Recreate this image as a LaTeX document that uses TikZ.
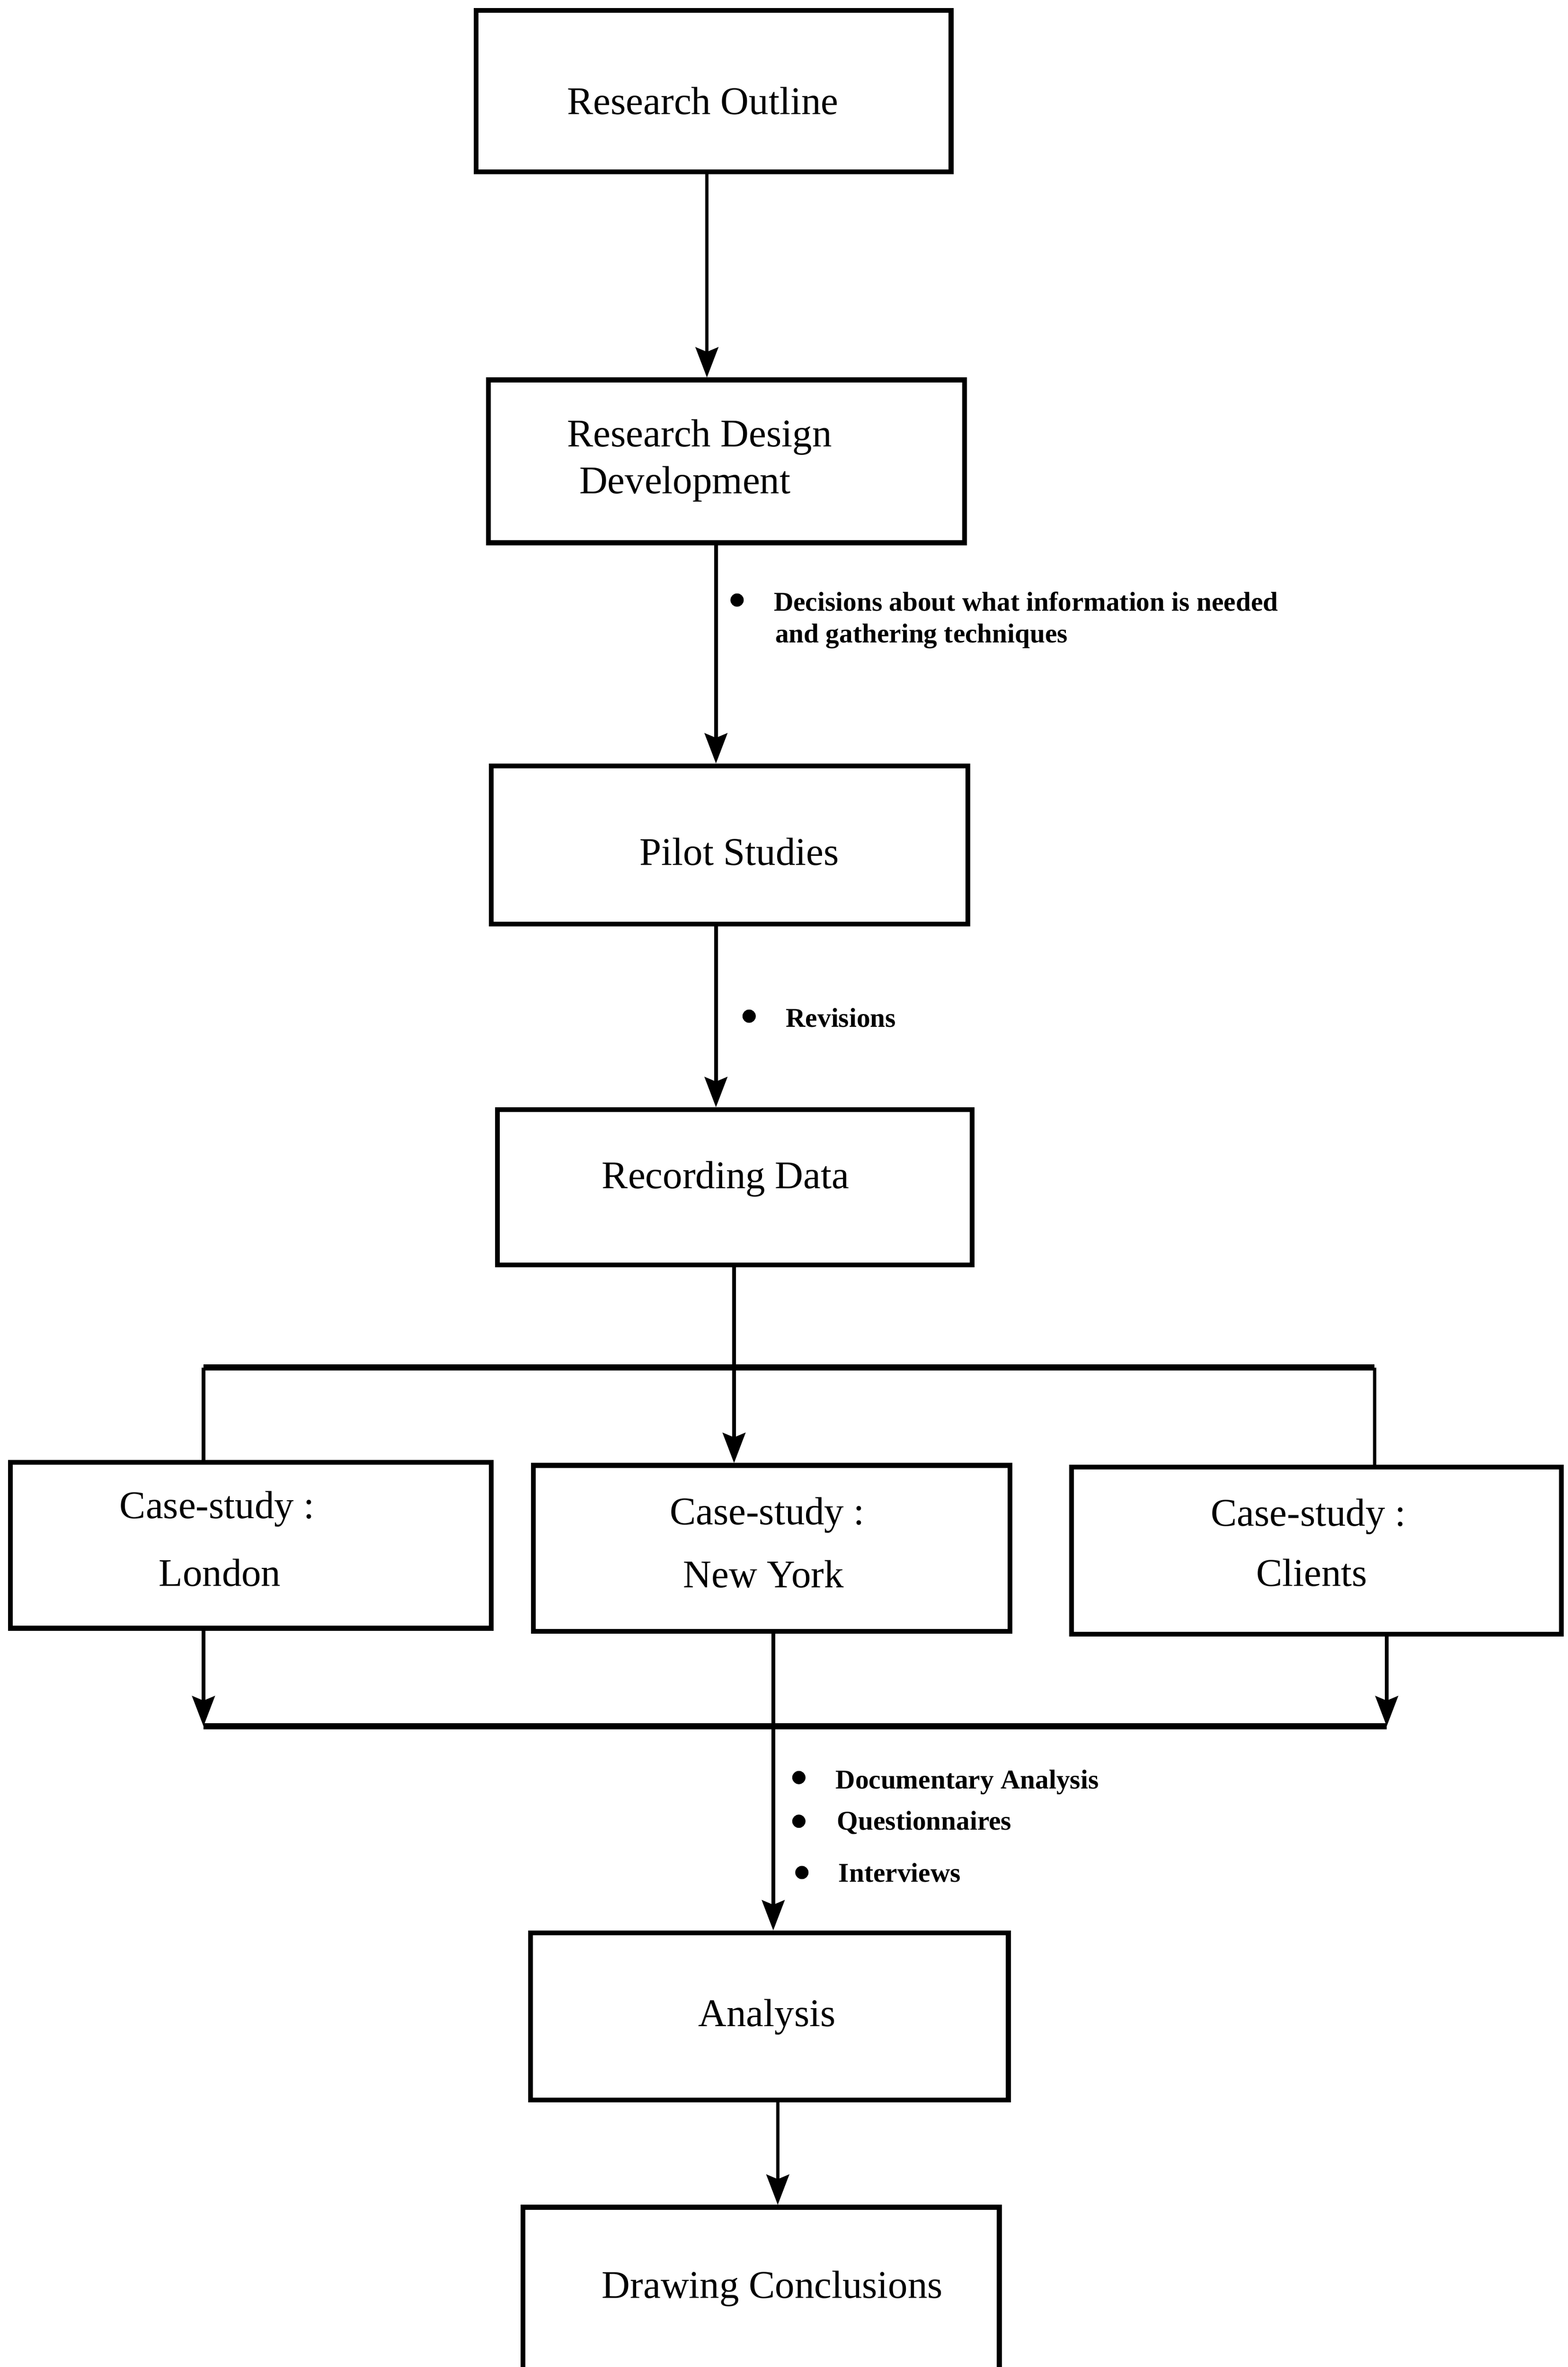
\documentclass[tikz,border=0pt]{standalone}
\usepackage{fontspec}
\setmainfont{Liberation Serif}
\usetikzlibrary{arrows.meta}
\begin{document}
\begin{tikzpicture}[x=0.5pt,y=-0.5pt,
  boxnode/.style={draw,line width=1.6pt,inner sep=0pt,rectangle},
  boxtext/.style={inner sep=0pt,anchor=west,font=\fontsize{13}{15}\selectfont},
  notetext/.style={inner sep=0pt,anchor=west,font=\bfseries\fontsize{9}{11}\selectfont},
  dotnode/.style={circle,fill,inner sep=0pt,minimum size=4.4pt},
  conn/.style={line width=1.2pt},
  arr/.style={conn,-{Stealth[length=10pt,width=7.5pt,inset=1.5pt]}},
  barline/.style={line width=2pt}]
\path[use as bounding box] (0,0) rectangle (1040,1570);
\clip (0,0) rectangle (1040,1570);
% boxes
\node[boxnode,minimum width=157.5pt,minimum height=53.5pt] (ro) at (473.5,60.5) {};
\node[boxnode,minimum width=158pt,minimum height=54pt] (rdd) at (482,306) {};
\node[boxnode,minimum width=158pt,minimum height=52.5pt] (ps) at (484,560.5) {};
\node[boxnode,minimum width=157.5pt,minimum height=51.5pt] (rd) at (487.5,787.5) {};
\node[boxnode,minimum width=159.5pt,minimum height=55pt] (lon) at (166.5,1025) {};
\node[boxnode,minimum width=158pt,minimum height=55pt] (ny) at (512,1027) {};
\node[boxnode,minimum width=162.5pt,minimum height=55.5pt] (cl) at (873.5,1028.5) {};
\node[boxnode,minimum width=158.5pt,minimum height=55.5pt] (an) at (510.5,1337.5) {};
\node[boxnode,minimum width=158pt,minimum height=78pt] (dc) at (505,1542) {};
% box texts
\node[boxtext] (t1) at (376,67) {Research Outline};
\node[boxtext] (t2a) at (376,290) {Research Design};
\node[boxtext] (t2b) at (384,321) {Development};
\node[boxtext] (t3) at (424,565) {Pilot Studies};
\node[boxtext] (t4) at (399,782) {Recording Data};
\node[boxtext] (t5a) at (79,1001) {Case-study :};
\node[boxtext] (t5b) at (105,1043) {London};
\node[boxtext] (t6a) at (444,1005) {Case-study :};
\node[boxtext] (t6b) at (453,1044) {New York};
\node[boxtext] (t7a) at (803,1006) {Case-study :};
\node[boxtext] (t7b) at (833,1043) {Clients};
\node[boxtext] (t8) at (463,1338) {Analysis};
\node[boxtext] (t9) at (399,1518) {Drawing Conclusions};
% notes
\node[dotnode] (d1) at (489,398) {};
\node[notetext] (n1a) at (513,399) {Decisions about what information is needed};
\node[notetext] (n1b) at (514,422) {and gathering techniques};
\node[dotnode] (d2) at (497,674) {};
\node[notetext] (n2) at (521,675) {Revisions};
\node[dotnode] (d3) at (530,1179) {};
\node[notetext] (n3) at (554,1182) {Documentary Analysis};
\node[dotnode] (d4) at (530,1208) {};
\node[notetext] (n4) at (555,1209) {Questionnaires};
\node[dotnode] (d5) at (532,1242) {};
\node[notetext] (n5) at (556,1242) {Interviews};
% junction coordinates
\coordinate (j1) at (487,907);
\coordinate (bl) at (135,907);
\coordinate (br) at (912,907);
\coordinate (ml) at (135,1145);
\coordinate (mr) at (920,1145);
% connectors
\draw[arr] (469,0 |- ro.south) -- (469,0 |- rdd.north);
\draw[arr] (475,0 |- rdd.south) -- (475,0 |- ps.north);
\draw[arr] (475,0 |- ps.south) -- (475,0 |- rd.north);
\draw[conn] (j1 |- rd.south) -- (j1);
\draw[arr] (j1) -- (j1 |- ny.north);
\draw[barline] (bl) -- (br);
\draw[conn] (bl) -- (bl |- lon.north);
\draw[conn] (br) -- (br |- cl.north);
\draw[arr] (ml |- lon.south) -- (ml);
\draw[arr] (mr |- cl.south) -- (mr);
\draw[barline] (ml) -- (mr);
\draw[arr] (513,0 |- ny.south) -- (513,0 |- an.north);
\draw[arr] (516,0 |- an.south) -- (516,0 |- dc.north);
\end{tikzpicture}
\end{document}
